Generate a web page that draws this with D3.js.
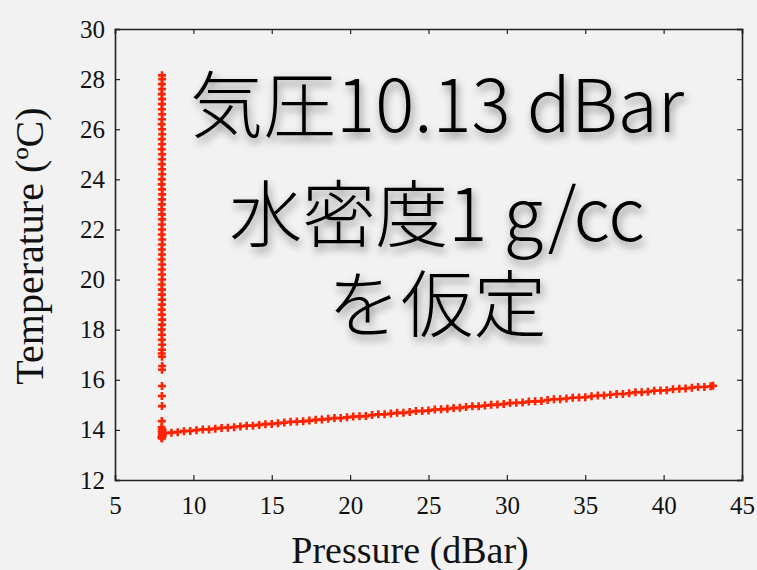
<!DOCTYPE html>
<html>
<head>
<meta charset="utf-8">
<script src="https://cdn.jsdelivr.net/npm/d3@7"></script>
<style>
  html, body { margin: 0; padding: 0; background: #f2f2f2; }
  svg { display: block; }
</style>
</head>
<body>
<div id="container"></div>
<script>
var totalWidth = 757,
    totalHeight = 570,
    margin = {top: 29, right: 15, bottom: 90, left: 115},
    width = totalWidth - margin.left - margin.right,
    height = totalHeight - margin.top - margin.bottom;

// tick labels
var xTicks = [5, 10, 15, 20, 25, 30, 35, 40, 45];
var yTicks = [12, 14, 16, 18, 20, 22, 24, 26, 28, 30];

// column: the probe sitting near the surface while the temperature drops
var columnPressure = [8.00, 8.01, 7.99, 8.00, 7.98, 8.01, 8.00, 7.99, 8.01, 8.00,
                      7.98, 8.00, 8.01, 7.99, 8.00, 7.98, 8.01, 8.00, 7.99, 8.00,
                      8.01, 7.99, 7.98, 8.00, 8.01, 8.00, 7.99, 7.98, 8.00, 8.01,
                      7.99, 8.00, 7.98, 8.01, 8.00, 7.99, 8.00, 7.98, 8.01, 7.99,
                      8.00, 8.01, 7.98, 8.00, 7.99, 8.01, 8.00, 7.98, 7.99, 8.01,
                      8.00, 7.98, 8.00, 7.99, 8.01, 8.00, 7.98, 8.00,
                      8.01, 8.00, 8.00, 7.99, 8.00, 7.99,
                      7.97, 8.02, 7.98, 8.01, 7.99, 8.03, 7.96, 8.00, 8.04];
var columnTemp = [28.15, 28.00, 27.80, 27.60, 27.40, 27.20, 27.00, 26.80, 26.60, 26.40,
                  26.20, 26.00, 25.80, 25.60, 25.40, 25.20, 25.00, 24.80, 24.60, 24.40,
                  24.20, 24.00, 23.80, 23.60, 23.40, 23.20, 23.00, 22.80, 22.60, 22.40,
                  22.20, 22.00, 21.80, 21.60, 21.40, 21.20, 21.00, 20.80, 20.60, 20.40,
                  20.20, 20.00, 19.80, 19.60, 19.40, 19.20, 19.00, 18.80, 18.60, 18.40,
                  18.20, 18.00, 17.80, 17.60, 17.40, 17.20, 17.05, 16.92,
                  16.55, 16.40, 15.75, 15.35, 14.95, 14.35,
                  14.10, 14.02, 13.95, 13.88, 13.80, 13.75, 13.70, 13.66, 13.85];

// bottom: pressure rising while the temperature climbs slowly
var linePressure = [8.2, 8.6, 9.0, 9.4, 9.8, 10.2, 10.6, 11.0, 11.4, 11.8,
                    12.2, 12.6, 13.0, 13.4, 13.8, 14.2, 14.6, 15.0, 15.4, 15.8,
                    16.2, 16.6, 17.0, 17.4, 17.8, 18.2, 18.6, 19.0, 19.4, 19.8,
                    20.2, 20.6, 21.0, 21.4, 21.8, 22.2, 22.6, 23.0, 23.4, 23.8,
                    24.2, 24.6, 25.0, 25.4, 25.8, 26.2, 26.6, 27.0, 27.4, 27.8,
                    28.2, 28.6, 29.0, 29.4, 29.8, 30.2, 30.6, 31.0, 31.4, 31.8,
                    32.2, 32.6, 33.0, 33.4, 33.8, 34.2, 34.6, 35.0, 35.4, 35.8,
                    36.2, 36.6, 37.0, 37.4, 37.8, 38.2, 38.6, 39.0, 39.4, 39.8,
                    40.2, 40.6, 41.0, 41.4, 41.8, 42.2, 42.6, 43.0, 43.15];
var lineTemp = [13.87, 13.89, 13.91, 13.95, 13.96, 13.99, 14.02, 14.02, 14.05, 14.08,
                14.09, 14.11, 14.14, 14.17, 14.17, 14.20, 14.23, 14.24, 14.26, 14.29,
                14.32, 14.33, 14.34, 14.37, 14.40, 14.41, 14.44, 14.47, 14.47, 14.50,
                14.53, 14.54, 14.55, 14.59, 14.62, 14.62, 14.65, 14.68, 14.68, 14.71,
                14.75, 14.75, 14.77, 14.81, 14.82, 14.84, 14.87, 14.88, 14.91, 14.94,
                14.94, 14.97, 15.00, 15.01, 15.03, 15.07, 15.08, 15.09, 15.13, 15.14,
                15.15, 15.19, 15.22, 15.22, 15.25, 15.28, 15.29, 15.30, 15.34, 15.37,
                15.37, 15.40, 15.43, 15.43, 15.46, 15.50, 15.50, 15.52, 15.56, 15.57,
                15.58, 15.62, 15.64, 15.65, 15.68, 15.71, 15.71, 15.74, 15.76];

var noteLines = ["気圧10.13 dBar", "水密度1 g/cc", "を仮定"];

var points = [];
columnPressure.forEach(function(p, i) { points.push({p: p, t: columnTemp[i]}); });
linePressure.forEach(function(p, i) { points.push({p: p, t: lineTemp[i]}); });

var xScale = d3.scaleLinear().domain([5, 45]).range([0, width]);
var yScale = d3.scaleLinear().domain([12, 30]).range([height, 0]);

var svg = d3.select("#container")
            .append("svg")
            .attr("width", totalWidth)
            .attr("height", totalHeight);

var defs = svg.append("defs");
var shadow = defs.append("filter").attr("id", "shadow")
                 .attr("x", "-10%").attr("y", "-20%")
                 .attr("width", "120%").attr("height", "150%");
shadow.append("feDropShadow")
      .attr("dx", 2).attr("dy", 5)
      .attr("stdDeviation", 4)
      .attr("flood-color", "#000")
      .attr("flood-opacity", 0.45);

var g = svg.append("g")
           .attr("transform", "translate(" + margin.left + "," + margin.top + ")");

// points
g.append("g")
 .attr("class", "points")
 .selectAll("path")
 .data(points).enter()
 .append("path")
 .attr("transform", function(d) { return "translate(" + xScale(d.p) + "," + yScale(d.t) + ")"; })
 .attr("d", "M-4,0H4M0,-4V4")
 .attr("stroke", "#ff2200")
 .attr("stroke-width", 2.6)
 .attr("fill", "none");

// axes, ticks pointing inwards on all four sides
var serif = "'Liberation Serif', 'Times New Roman', serif";
var axisColor = "#222";

var xBottom = d3.axisBottom(xScale).tickValues(xTicks).tickSize(-5).tickPadding(16);
var xTop = d3.axisTop(xScale).tickValues(xTicks).tickSize(-5).tickFormat("");
var yLeft = d3.axisLeft(yScale).tickValues(yTicks).tickSize(-5).tickPadding(10);
var yRight = d3.axisRight(yScale).tickValues(yTicks).tickSize(-5).tickFormat("");

function style(sel) {
  sel.attr("font-family", serif).attr("font-size", 25);
  sel.select(".domain").attr("stroke", axisColor).attr("stroke-width", 1.6);
  sel.selectAll(".tick line").attr("stroke", axisColor).attr("stroke-width", 1.2);
  sel.selectAll(".tick text")
     .attr("fill", "#111")
     .style("font-family", serif)
     .style("font-size", "25px");
}

g.append("g").attr("transform", "translate(0," + height + ")").call(xBottom).call(style);
g.append("g").call(xTop).call(style);
g.append("g").call(yLeft).call(style);
g.append("g").attr("transform", "translate(" + width + ",0)").call(yRight).call(style);

// axis titles
svg.append("text")
   .attr("x", 410).attr("y", 563)
   .attr("text-anchor", "middle")
   .style("font-family", serif)
   .style("font-size", "38px")
   .attr("fill", "#111")
   .text("Pressure (dBar)");

svg.append("text")
   .attr("transform", "translate(43,246) rotate(-90)")
   .attr("text-anchor", "middle")
   .style("font-family", serif)
   .style("font-size", "40px")
   .attr("fill", "#111")
   .text("Temperature (ºC)");

// note with shadow
var noteY = [132, 241, 331];
svg.append("g")
   .attr("filter", "url(#shadow)")
   .selectAll("text")
   .data(noteLines).enter()
   .append("text")
   .attr("x", 437)
   .attr("y", function(d, i) { return noteY[i]; })
   .attr("text-anchor", "middle")
   .style("font-family", "'Noto Sans CJK JP'")
   .style("font-weight", 300)
   .style("font-size", "73px")
   .attr("fill", "#000")
   .text(function(d) { return d; });
</script>
</body>
</html>
